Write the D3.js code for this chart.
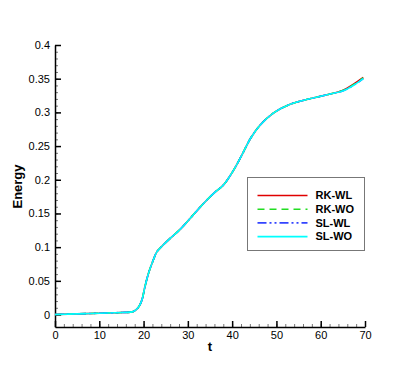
<!DOCTYPE html>
<html>
<head>
<meta charset="utf-8">
<script src="https://cdn.jsdelivr.net/npm/d3@7"></script>
<style>
  body { margin: 0; background: #fff; }
  svg text { font-family: "Liberation Sans", Arial, sans-serif; }
</style>
</head>
<body>
<div id="chart"></div>
<script>
// tiempo y energía
const tiempos = [0, 5, 10, 15, 17.7, 18.8, 19.6, 20.3, 21.1, 22.2, 23.0, 24.1, 26.0, 28.2, 30.3, 32.3, 34.3, 36.2, 38.0, 40.3, 42.3, 44.2, 46.3, 49.3, 53.1, 56.8, 60.0, 62.6, 65.1, 67.4, 69.6];
const energiaRKWL = [0, 0.001, 0.002, 0.003, 0.0045, 0.0104, 0.021, 0.041, 0.061, 0.081, 0.093, 0.101, 0.113, 0.126, 0.141, 0.156, 0.170, 0.182, 0.192, 0.214, 0.238, 0.262, 0.281, 0.299, 0.312, 0.319, 0.324, 0.328, 0.333, 0.342, 0.352];
const energiaRKWO = [0, 0.001, 0.002, 0.003, 0.0045, 0.0104, 0.021, 0.041, 0.061, 0.081, 0.093, 0.101, 0.113, 0.126, 0.141, 0.156, 0.170, 0.182, 0.192, 0.214, 0.238, 0.262, 0.281, 0.299, 0.312, 0.319, 0.324, 0.328, 0.333, 0.341, 0.351];
const energiaSLWL = [0, 0.001, 0.002, 0.003, 0.0045, 0.0104, 0.021, 0.041, 0.061, 0.081, 0.093, 0.101, 0.113, 0.126, 0.141, 0.156, 0.170, 0.182, 0.192, 0.214, 0.238, 0.262, 0.281, 0.299, 0.312, 0.319, 0.324, 0.328, 0.332, 0.340, 0.350];
const energiaSLWO = [0, 0.001, 0.002, 0.003, 0.0045, 0.0104, 0.021, 0.041, 0.061, 0.081, 0.093, 0.101, 0.113, 0.126, 0.141, 0.156, 0.170, 0.182, 0.192, 0.214, 0.238, 0.262, 0.281, 0.299, 0.312, 0.319, 0.324, 0.328, 0.332, 0.340, 0.350];

const nombresSerie = ["RK-WL", "RK-WO", "SL-WL", "SL-WO"];
const coloresSerie = ["#e00000", "#22dd22", "#3344ff", "#00ffff"];
const trazosSerie = [null, "7,5", "9,3,2,3,2,3", null];

const ticksX = [0, 10, 20, 30, 40, 50, 60, 70];
const ticksY = [0, 0.05, 0.1, 0.15, 0.2, 0.25, 0.3, 0.35, 0.4];

const series = [energiaRKWL, energiaRKWO, energiaSLWL, energiaSLWO].map((vals, i) => ({
  nombre: nombresSerie[i],
  color: coloresSerie[i],
  trazo: trazosSerie[i],
  puntos: tiempos.map((t, j) => ({ t, e: vals[j] }))
}));

const width = 415, height = 369;
const margen = { left: 55, right: 50, top: 45, bottom: 42 };

const svg = d3.select("#chart").append("svg")
  .attr("width", width)
  .attr("height", height);

const x = d3.scaleLinear().domain([0, 70]).range([margen.left, width - margen.right]);
const y = d3.scaleLinear().domain([-0.0185, 0.4]).range([height - margen.bottom, margen.top]);

// ticks menores
const minX = d3.range(0, 70.01, 2);
const minY = d3.range(0, 0.4001, 0.01);

svg.append("g")
  .attr("transform", `translate(0,${y(-0.0185)})`)
  .call(d3.axisBottom(x).tickValues(minX).tickSize(-3).tickFormat(""))
  .call(g => g.selectAll(".tick line").attr("stroke", "#777"))
  .call(g => g.select(".domain").remove());

svg.append("g")
  .attr("transform", `translate(${margen.left},0)`)
  .call(d3.axisLeft(y).tickValues(minY).tickSize(-3).tickFormat(""))
  .call(g => g.selectAll(".tick line").attr("stroke", "#777"))
  .call(g => g.select(".domain").remove());

// ejes principales
const ejeX = svg.append("g")
  .attr("transform", `translate(0,${y(-0.0185)})`)
  .call(d3.axisBottom(x).tickValues(ticksX).tickSizeInner(-6).tickSizeOuter(0).tickPadding(4).tickFormat(d3.format("d")));

const ejeY = svg.append("g")
  .attr("transform", `translate(${margen.left},0)`)
  .call(d3.axisLeft(y).tickValues(ticksY).tickSizeInner(-6).tickSizeOuter(0).tickPadding(5).tickFormat(d => d === 0 ? "0" : String(+d.toFixed(2))));

[ejeX, ejeY].forEach(g => {
  g.select(".domain").attr("stroke", "#000").attr("stroke-width", 1.5);
  g.selectAll(".tick line").attr("stroke", "#000").attr("stroke-width", 1.5);
  g.selectAll(".tick text").attr("fill", "#000").style("font-size", "11px");
});

// curvas
const linea = d3.line()
  .x(d => x(d.t))
  .y(d => y(d.e))
  .curve(d3.curveCatmullRom.alpha(0.5));

svg.append("g")
  .selectAll("path")
  .data(series)
  .join("path")
  .attr("fill", "none")
  .attr("stroke", d => d.color)
  .attr("stroke-width", 1.6)
  .attr("stroke-dasharray", d => d.trazo)
  .attr("d", d => linea(d.puntos));

// títulos de ejes
svg.append("text")
  .attr("x", x(35))
  .attr("y", 351)
  .attr("text-anchor", "middle")
  .style("font-size", "13px")
  .style("font-weight", "bold")
  .text("t");

svg.append("text")
  .attr("transform", `translate(22,${y(0.19)}) rotate(-90)`)
  .attr("text-anchor", "middle")
  .style("font-size", "13px")
  .style("font-weight", "bold")
  .text("Energy");

// leyenda
const leyenda = svg.append("g").attr("transform", "translate(247.5,177.5)");
leyenda.append("rect")
  .attr("width", 117)
  .attr("height", 73)
  .attr("fill", "#fff")
  .attr("stroke", "#777")
  .attr("stroke-width", 1);

const items = leyenda.selectAll("g.item")
  .data(series)
  .join("g")
  .attr("class", "item")
  .attr("transform", (d, i) => `translate(0,${18 + i * 13.7})`);

items.append("line")
  .attr("x1", 10).attr("x2", 60)
  .attr("stroke", d => d.color)
  .attr("stroke-width", 1.6)
  .attr("stroke-dasharray", d => d.trazo);

items.append("text")
  .attr("x", 68)
  .attr("dy", "0.35em")
  .style("font-size", "11px")
  .style("font-weight", "bold")
  .text(d => d.nombre);
</script>
</body>
</html>
